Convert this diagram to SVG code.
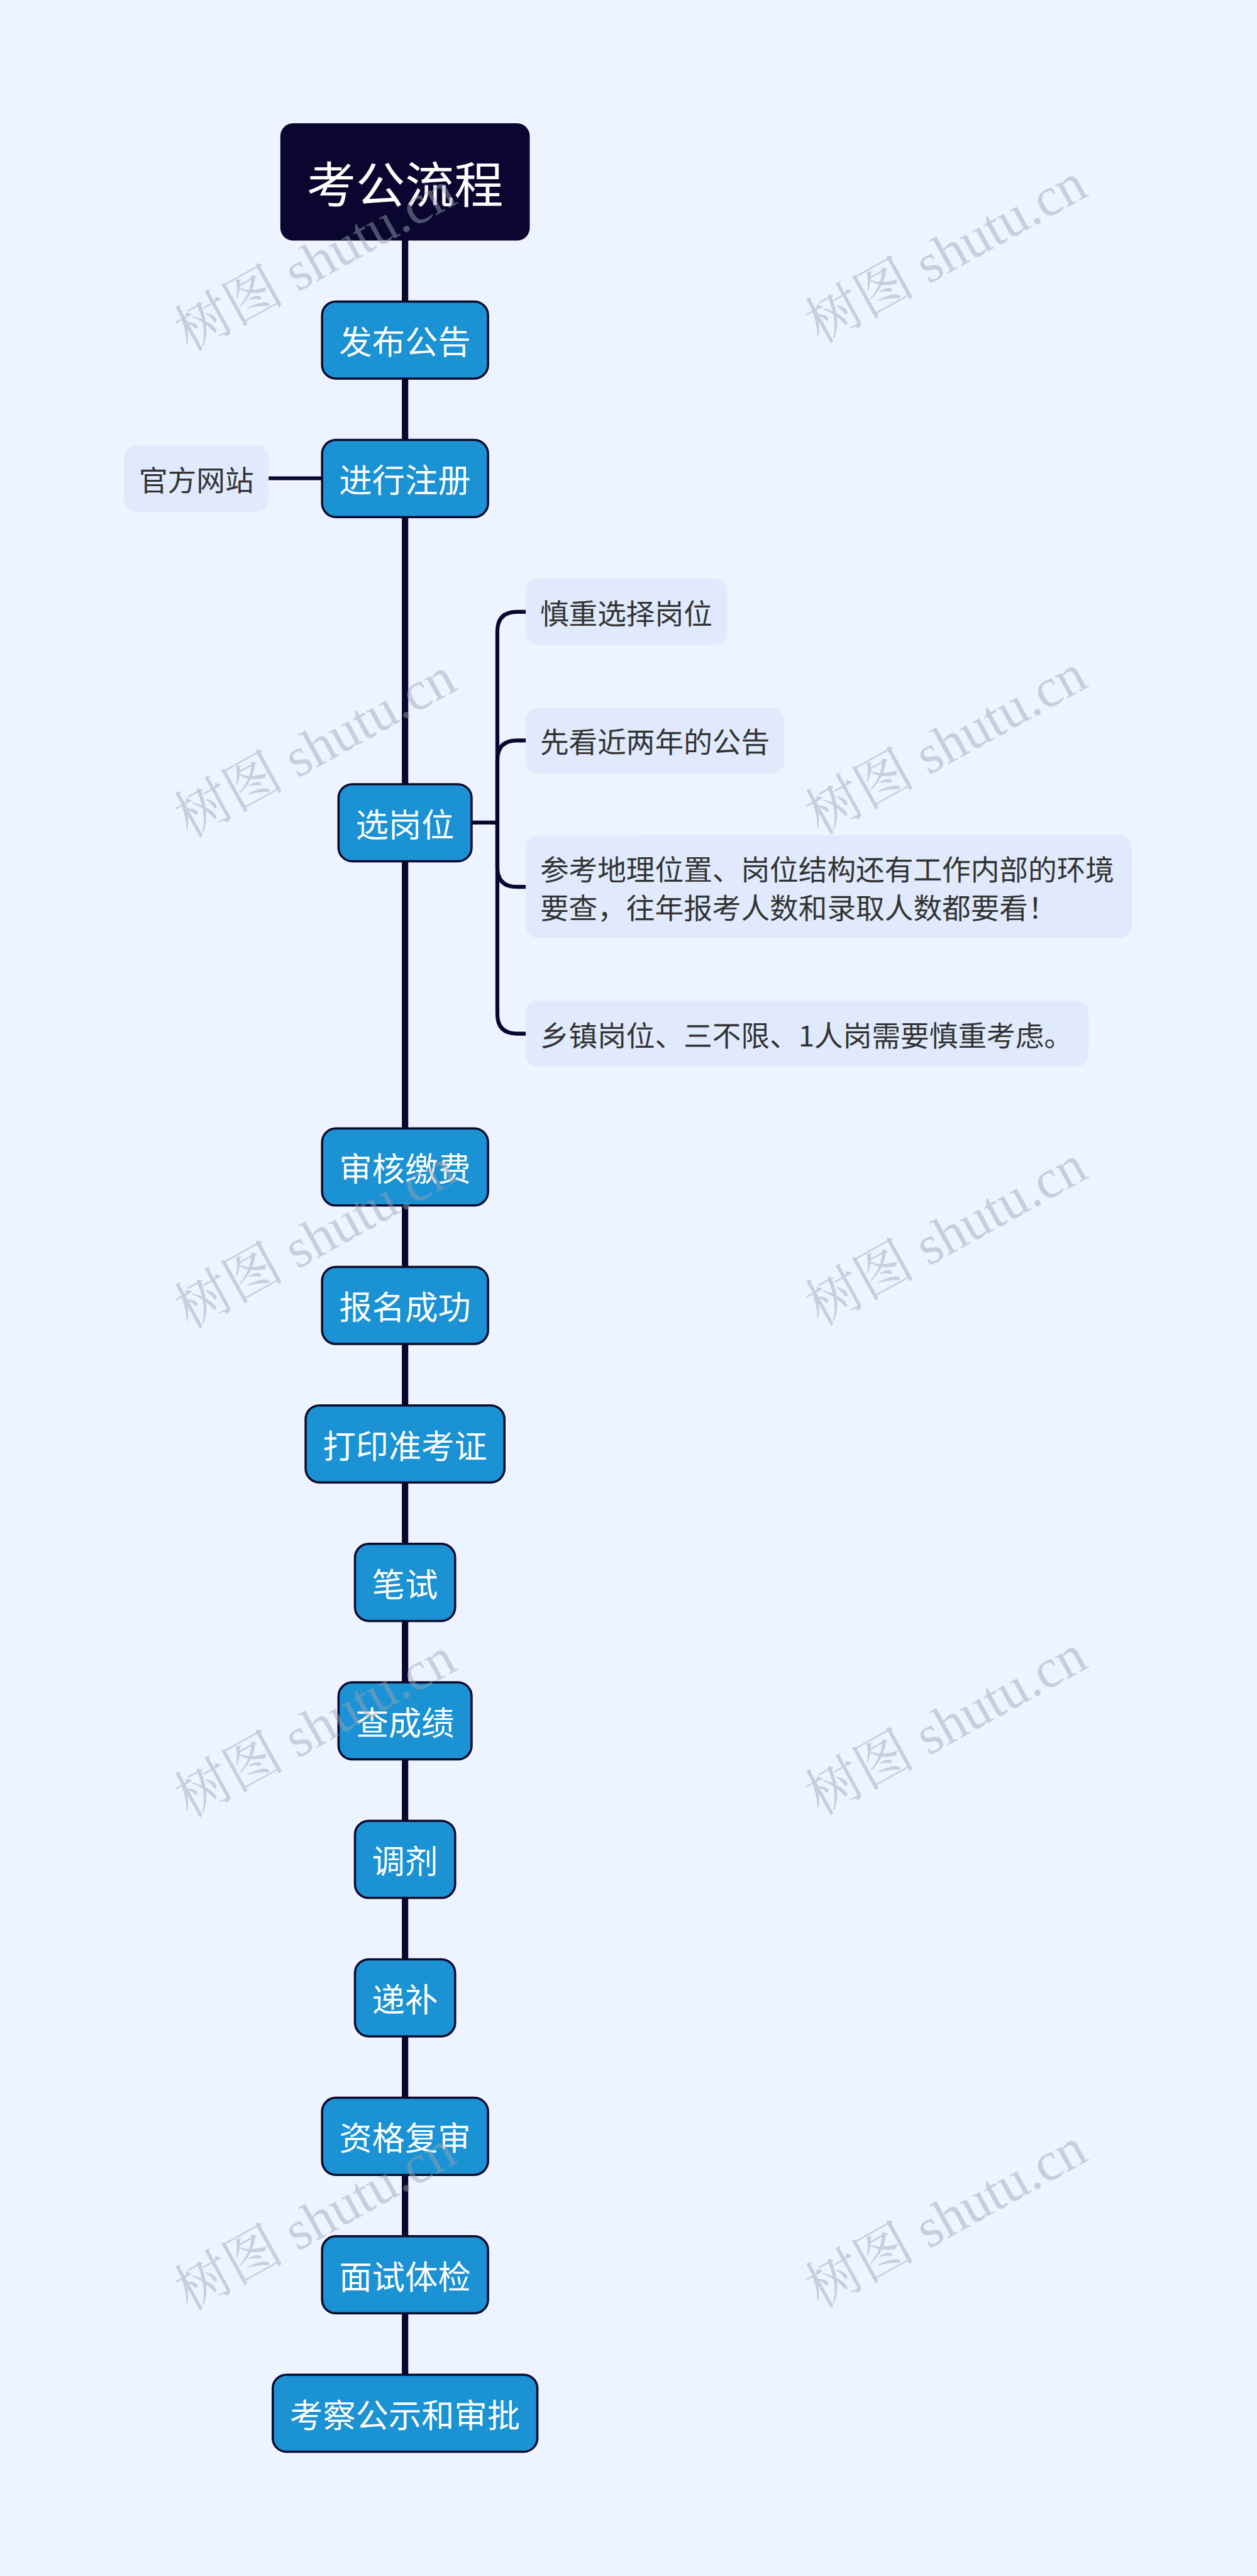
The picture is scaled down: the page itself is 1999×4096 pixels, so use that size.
<svg xmlns="http://www.w3.org/2000/svg" width="1999" height="4096" viewBox="0 0 1999 4096">
<style>
.bg{fill:#eef4ff}
.root{fill:#0b0630}
.node rect{fill:#1a92d4;stroke:#0b0a2c;stroke-width:4.5}
.node text{fill:#ffffff;font-family:"Noto Sans CJK SC","Noto Sans",sans-serif;font-size:67px;text-anchor:middle;dominant-baseline:central}
.rootnode text{fill:#ffffff;font-family:"Noto Sans CJK SC","Noto Sans",sans-serif;font-size:100px;text-anchor:middle;dominant-baseline:central}
.sub rect{fill:#e0eafc}
.sub text{fill:#333333;font-family:"Noto Sans CJK SC","Noto Sans",sans-serif;font-size:58.5px;dominant-baseline:central}
.spine{stroke:#0b0630;stroke-width:13;fill:none}
.branch{stroke:#0b0630;stroke-width:8;fill:none}
.wm{fill:#9da3b0;fill-opacity:0.47;font-family:"Liberation Serif","Noto Serif CJK SC","Noto Sans CJK SC",serif;font-size:112px;text-anchor:middle;dominant-baseline:central}
</style>
<rect class="bg" x="0" y="0" width="1999" height="4096"/>
<g transform="scale(0.7808)">
<g id="connectors">
<line class="spine" x1="825" y1="488" x2="825" y2="616"/>
<line class="spine" x1="825" y1="768" x2="825" y2="898"/>
<line class="spine" x1="825" y1="1050" x2="825" y2="1599"/>
<line class="spine" x1="825" y1="1751" x2="825" y2="2300"/>
<line class="spine" x1="825" y1="2452" x2="825" y2="2582"/>
<line class="spine" x1="825" y1="2734" x2="825" y2="2864"/>
<line class="spine" x1="825" y1="3016" x2="825" y2="3146"/>
<line class="spine" x1="825" y1="3298" x2="825" y2="3428"/>
<line class="spine" x1="825" y1="3580" x2="825" y2="3710"/>
<line class="spine" x1="825" y1="3862" x2="825" y2="3992"/>
<line class="spine" x1="825" y1="4144" x2="825" y2="4274"/>
<line class="spine" x1="825" y1="4426" x2="825" y2="4556"/>
<line class="spine" x1="825" y1="4708" x2="825" y2="4838"/>
<line class="branch" x1="547" y1="974" x2="658" y2="974"/>
<path class="branch" d="M958 1675 H1013"/>
<path class="branch" d="M1013 1675 V1286 Q1013 1246 1053 1246 H1071"/>
<path class="branch" d="M1013 1675 V1548 Q1013 1508 1053 1508 H1071"/>
<path class="branch" d="M1013 1675 V1766 Q1013 1806 1053 1806 H1071"/>
<path class="branch" d="M1013 1675 V2065 Q1013 2105 1053 2105 H1071"/>
</g>
<g id="root" class="rootnode">
<rect class="root" x="571" y="251" width="508" height="239" rx="26"/>
<text x="825" y="370">考公流程</text>
</g>
<g id="n1" class="node"><rect x="656" y="614" width="338" height="157" rx="28"/><text x="825" y="692">发布公告</text></g>
<g id="n2" class="node"><rect x="656" y="896" width="338" height="157" rx="28"/><text x="825" y="974">进行注册</text></g>
<g id="n3" class="node"><rect x="689.5" y="1597" width="271" height="157" rx="28"/><text x="825" y="1675">选岗位</text></g>
<g id="n4" class="node"><rect x="656" y="2298" width="338" height="157" rx="28"/><text x="825" y="2376">审核缴费</text></g>
<g id="n5" class="node"><rect x="656" y="2580" width="338" height="157" rx="28"/><text x="825" y="2658">报名成功</text></g>
<g id="n6" class="node"><rect x="622.5" y="2862" width="405" height="157" rx="28"/><text x="825" y="2940">打印准考证</text></g>
<g id="n7" class="node"><rect x="723" y="3144" width="204" height="157" rx="28"/><text x="825" y="3222">笔试</text></g>
<g id="n8" class="node"><rect x="689.5" y="3426" width="271" height="157" rx="28"/><text x="825" y="3504">查成绩</text></g>
<g id="n9" class="node"><rect x="723" y="3708" width="204" height="157" rx="28"/><text x="825" y="3786">调剂</text></g>
<g id="n10" class="node"><rect x="723" y="3990" width="204" height="157" rx="28"/><text x="825" y="4068">递补</text></g>
<g id="n11" class="node"><rect x="656" y="4272" width="338" height="157" rx="28"/><text x="825" y="4350">资格复审</text></g>
<g id="n12" class="node"><rect x="656" y="4554" width="338" height="157" rx="28"/><text x="825" y="4632">面试体检</text></g>
<g id="n13" class="node"><rect x="555.5" y="4836" width="539" height="157" rx="28"/><text x="825" y="4914">考察公示和审批</text></g>
<g id="s1" class="sub"><rect x="253" y="907" width="294" height="135" rx="24"/><text x="283" y="974.5">官方网站</text></g>
<g id="s2" class="sub"><rect x="1071" y="1179" width="410" height="134" rx="24"/><text x="1100" y="1246">慎重选择岗位</text></g>
<g id="s3" class="sub"><rect x="1071" y="1442" width="526" height="133" rx="24"/><text x="1100" y="1508">先看近两年的公告</text></g>
<g id="s4" class="sub"><rect x="1071" y="1701" width="1234" height="209" rx="24"/><text x="1100" y="1768">参考地理位置、岗位结构还有工作内部的环境</text><text x="1100" y="1845">要查，往年报考人数和录取人数都要看！</text></g>
<g id="s5" class="sub"><rect x="1071" y="2038" width="1146" height="134" rx="24"/><text x="1100" y="2105">乡镇岗位、三不限、1人岗需要慎重考虑。</text></g>
<g id="watermarks">
<text class="wm" transform="translate(642 532) rotate(-29)">树图 shutu.cn</text>
<text class="wm" transform="translate(1927 516) rotate(-29)">树图 shutu.cn</text>
<text class="wm" transform="translate(642 1522) rotate(-29)">树图 shutu.cn</text>
<text class="wm" transform="translate(1927 1516) rotate(-29)">树图 shutu.cn</text>
<text class="wm" transform="translate(642 2522) rotate(-29)">树图 shutu.cn</text>
<text class="wm" transform="translate(1927 2516) rotate(-29)">树图 shutu.cn</text>
<text class="wm" transform="translate(642 3518) rotate(-29)">树图 shutu.cn</text>
<text class="wm" transform="translate(1927 3513) rotate(-29)">树图 shutu.cn</text>
<text class="wm" transform="translate(642 4522) rotate(-29)">树图 shutu.cn</text>
<text class="wm" transform="translate(1927 4517) rotate(-29)">树图 shutu.cn</text>
</g>
</g>
</svg>
